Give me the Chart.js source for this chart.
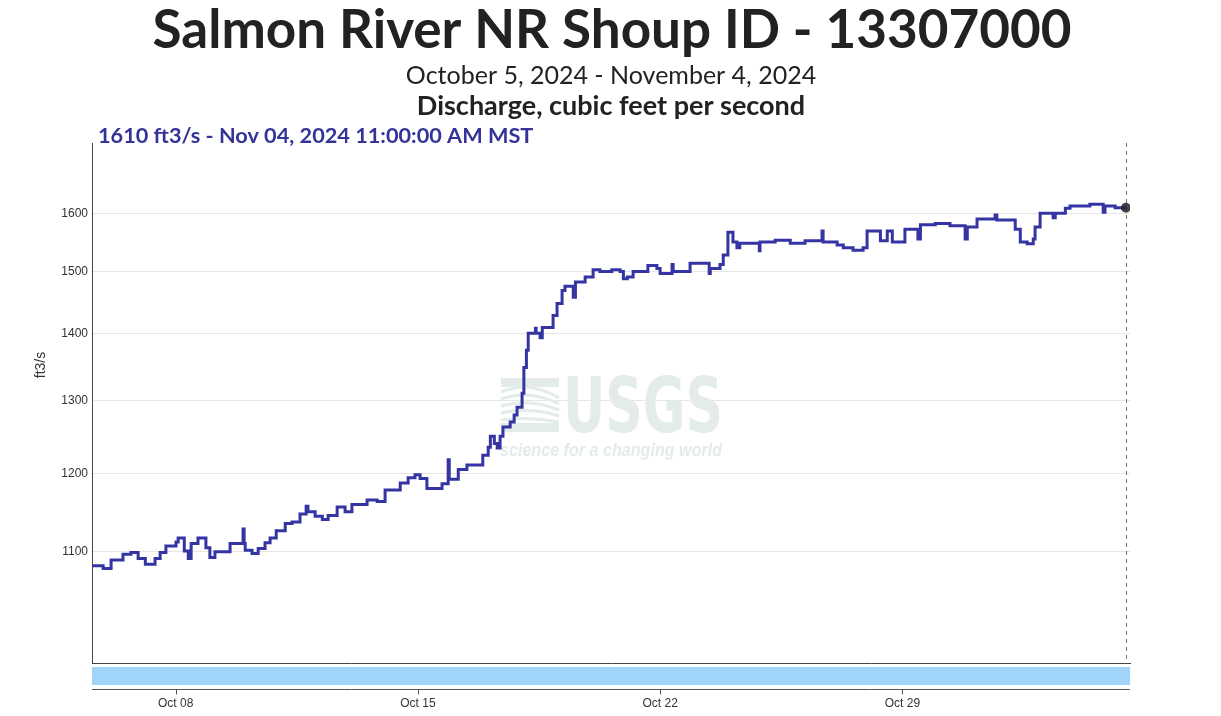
<!DOCTYPE html>
<html><head><meta charset="utf-8">
<script src="https://cdn.jsdelivr.net/npm/chart.js@4.4.1/dist/chart.umd.min.js"></script>
<style>html,body{margin:0;padding:0;background:#fff;} canvas{display:block;}</style>
</head><body>
<canvas id="c" width="1221" height="716"></canvas>
<script>
const chartTitle = "Salmon River NR Shoup ID - 13307000";
const dateRange = "October 5, 2024 - November 4, 2024";
const parameterName = "Discharge, cubic feet per second";
const latestLabel = "1610 ft3/s - Nov 04, 2024 11:00:00 AM MST";
const yUnit = "ft3/s";
const yTickValues = [1100, 1200, 1300, 1400, 1500, 1600];
const xTickDates = ["10-08 00:00", "10-15 00:00", "10-22 00:00", "10-29 00:00"];
const xTickLabels = ["Oct 08", "Oct 15", "Oct 22", "Oct 29"];
const xRange = ["10-05 14:00", "11-04 13:50"];
const yRange = [972.6, 1729.5];

const times = [
"10-05 14:00","10-05 21:45","10-06 03:15","10-06 11:30","10-06 17:00","10-06 22:00","10-07 03:00","10-07 09:45",
"10-07 13:15","10-07 17:15","10-08 00:15","10-08 01:45","10-08 06:00","10-08 08:45","10-08 10:45","10-08 15:30",
"10-08 21:00","10-08 23:45","10-09 03:15","10-09 13:45","10-09 22:45","10-09 23:30","10-10 00:15","10-10 05:00",
"10-10 09:15","10-10 14:00","10-10 17:30","10-10 21:45","10-11 04:00","10-11 08:45","10-11 14:15","10-11 18:30",
"10-11 19:45","10-12 00:45","10-12 05:45","10-12 09:45","10-12 16:00","10-12 21:30","10-13 02:15","10-13 12:45",
"10-13 19:45","10-14 01:15","10-14 11:45","10-14 17:15","10-14 22:00","10-15 01:30","10-15 06:15","10-15 16:45",
"10-15 21:00","10-15 21:45","10-16 04:00","10-16 10:00","10-16 21:00","10-17 00:45","10-17 02:15","10-17 05:00",
"10-17 07:00","10-17 09:00","10-17 11:00","10-17 16:00","10-17 18:45","10-17 20:45","10-18 00:15","10-18 01:30",
"10-18 03:15","10-18 04:30","10-18 09:30","10-18 10:00","10-18 12:45","10-18 14:15","10-18 21:45","10-19 00:30",
"10-19 04:00","10-19 06:00","10-19 11:45","10-19 13:15","10-19 20:00","10-20 01:30","10-20 06:15","10-20 14:30",
"10-20 20:15","10-20 22:30","10-21 01:15","10-21 05:15","10-21 15:30","10-21 21:45","10-22 00:00","10-22 08:15",
"10-22 09:00","10-22 20:45","10-23 10:00","10-23 10:45","10-23 17:30","10-23 19:45","10-23 23:00","10-24 02:30",
"10-24 05:15","10-24 07:15","10-24 20:45","10-24 21:15","10-25 07:45","10-25 18:15","10-26 04:30","10-26 16:15",
"10-26 17:00","10-27 02:45","10-27 07:00","10-27 13:45","10-27 20:45","10-27 23:30","10-28 08:45","10-28 13:30",
"10-28 17:00","10-29 01:45","10-29 10:45","10-29 12:30","10-29 22:45","10-30 09:00","10-30 19:30","10-30 21:00",
"10-31 03:45","10-31 16:15","10-31 17:30","11-01 06:15","11-01 09:45","11-01 14:30","11-01 18:45","11-01 20:00",
"11-01 23:30","11-02 08:30","11-02 10:00","11-02 17:00","11-02 20:15","11-03 10:00","11-03 19:15","11-03 20:30",
"11-04 03:30","11-04 11:00"
];
const flows = [
1083,1080,1090,1097,1099,1092,1085,1092,
1099,1107,1112,1117,1101,1092,1110,1117,
1105,1093,1100,1110,1128,1110,1102,1098,
1104,1111,1117,1126,1135,1137,1147,1157,
1150,1144,1140,1145,1156,1150,1159,1165,
1163,1178,1187,1194,1198,1193,1180,1186,
1218,1192,1205,1211,1224,1235,1250,1240,
1234,1250,1263,1270,1280,1291,1311,1349,
1375,1401,1409,1401,1394,1410,1429,1448,
1469,1476,1458,1483,1491,1503,1500,1503,
1500,1488,1491,1500,1510,1505,1497,1512,
1500,1514,1497,1505,1512,1528,1567,1550,
1540,1548,1535,1550,1553,1548,1552,1569,
1550,1545,1540,1536,1540,1569,1552,1569,
1550,1572,1555,1580,1582,1578,1555,1576,
1590,1597,1588,1572,1550,1547,1555,1576,
1600,1592,1600,1609,1613,1616,1602,1613,
1610,1610
];

function toDay(s) {
  const [md, hm] = s.split(" ");
  const [mo, d] = md.split("-").map(Number);
  const [h, m] = hm.split(":").map(Number);
  return (mo === 11 ? 31 : 0) + d + (h + m / 60) / 24;
}

const pts = times.map((t, i) => ({ x: toDay(t), y: flows[i] }));
const lastIdx = pts.length - 1;
const SANS = '"Liberation Sans", Arial, sans-serif';
const HEAD = 'Lato, "Open Sans", sans-serif';

const decor = {
  id: 'decor',
  beforeDraw(chart) {
    const c = chart.ctx;
    c.save();
    c.fillStyle = '#fff';
    c.fillRect(0, 0, chart.width, chart.height);
    c.textAlign = 'center';
    c.textBaseline = 'middle';
    c.fillStyle = '#222';
    c.font = 'bold 53px ' + HEAD;
    c.fillText(chartTitle, 612, 31, 922);
    c.font = '25px ' + HEAD;
    c.fillText(dateRange, 611, 76, 412);
    c.font = 'bold 27px ' + HEAD;
    c.fillText(parameterName, 611, 106, 395);
    c.textAlign = 'left';
    c.fillStyle = '#333399';
    c.font = 'bold 21.7px ' + HEAD;
    c.fillText(latestLabel, 98, 136, 437);
    c.translate(41, 365);
    c.rotate(-Math.PI / 2);
    c.textAlign = 'center';
    c.fillStyle = '#333';
    c.font = '14px ' + SANS;
    c.fillText(yUnit, 0, 0);
    c.restore();
  },
  beforeDatasetsDraw(chart) {
    const c = chart.ctx;
    const a = chart.chartArea;
    c.save();
    c.fillStyle = '#e3ece9';
    c.strokeStyle = '#e3ece9';
    c.textBaseline = 'alphabetic';
    c.textAlign = 'left';
    c.font = 'bold 76px "Liberation Sans Narrow", "DejaVu Sans Condensed", sans-serif';
    c.fillText('USGS', 563, 432, 160);
    c.font = 'italic bold 19px "Liberation Sans", sans-serif';
    c.fillText('science for a changing world', 500, 456, 222);
    c.fillRect(501, 378, 58, 9);
    c.fillRect(501, 423, 58, 9);
    c.lineWidth = 3;
    for (let k = 0; k < 5; k++) {
      c.beginPath();
      c.moveTo(501, 392 + k * 7);
      c.quadraticCurveTo(530, 380 + k * 9, 559, 398 + k * 6);
      c.stroke();
    }
    const xs = chart.scales.x.getPixelForValue(pts[lastIdx].x);
    c.strokeStyle = '#777';
    c.lineWidth = 1;
    c.setLineDash([4, 4]);
    c.beginPath();
    c.moveTo(Math.round(xs) + 0.5, a.top);
    c.lineTo(Math.round(xs) + 0.5, a.bottom);
    c.stroke();
    c.restore();
  },
  afterDraw(chart) {
    const c = chart.ctx;
    const a = chart.chartArea;
    const sx = chart.scales.x;
    c.save();
    c.fillStyle = '#a0d4fb';
    c.fillRect(a.left, 667, a.right - a.left, 18);
    c.strokeStyle = '#555';
    c.lineWidth = 1;
    c.beginPath();
    c.moveTo(a.left, 689.5);
    c.lineTo(a.right, 689.5);
    xTickDates.forEach(d => {
      const px = Math.round(sx.getPixelForValue(toDay(d))) + 0.5;
      c.moveTo(px, 689.5);
      c.lineTo(px, 694.5);
    });
    c.stroke();
    c.restore();
  }
};

new Chart(document.getElementById('c'), {
  type: 'line',
  data: {
    datasets: [{
      data: pts,
      borderColor: '#3434a2',
      borderWidth: 3,
      stepped: true,
      fill: false,
      pointRadius: pts.map((p, i) => i === lastIdx ? 5 : 0),
      pointBackgroundColor: 'rgba(35,35,35,0.85)',
      pointBorderWidth: 0
    }]
  },
  options: {
    responsive: false,
    animation: false,
    devicePixelRatio: 1,
    events: [],
    layout: { padding: { top: 143, right: 91, left: 0, bottom: 0 } },
    plugins: { legend: { display: false }, tooltip: { enabled: false }, title: { display: false } },
    scales: {
      x: {
        type: 'linear',
        min: toDay(xRange[0]),
        max: toDay(xRange[1]),
        afterFit: s => { s.height = 53; },
        afterBuildTicks: s => { s.ticks = xTickDates.map(d => ({ value: toDay(d) })); },
        ticks: {
          callback: (v, i) => xTickLabels[i],
          padding: 33,
          autoSkip: false,
          maxRotation: 0,
          color: '#333',
          font: { family: SANS, size: 12 }
        },
        grid: { display: false, drawTicks: false },
        border: { display: true, color: '#444', width: 1 }
      },
      y: {
        type: 'logarithmic',
        min: yRange[0],
        max: yRange[1],
        afterFit: s => { s.width = 92; },
        afterBuildTicks: s => { s.ticks = yTickValues.map(v => ({ value: v })); },
        ticks: {
          callback: v => String(v),
          padding: 4,
          color: '#333',
          font: { family: SANS, size: 12 }
        },
        grid: { color: '#e6e6e6', drawTicks: false },
        border: { display: true, color: '#444', width: 1 }
      }
    }
  },
  plugins: [decor]
});
</script>
</body></html>
